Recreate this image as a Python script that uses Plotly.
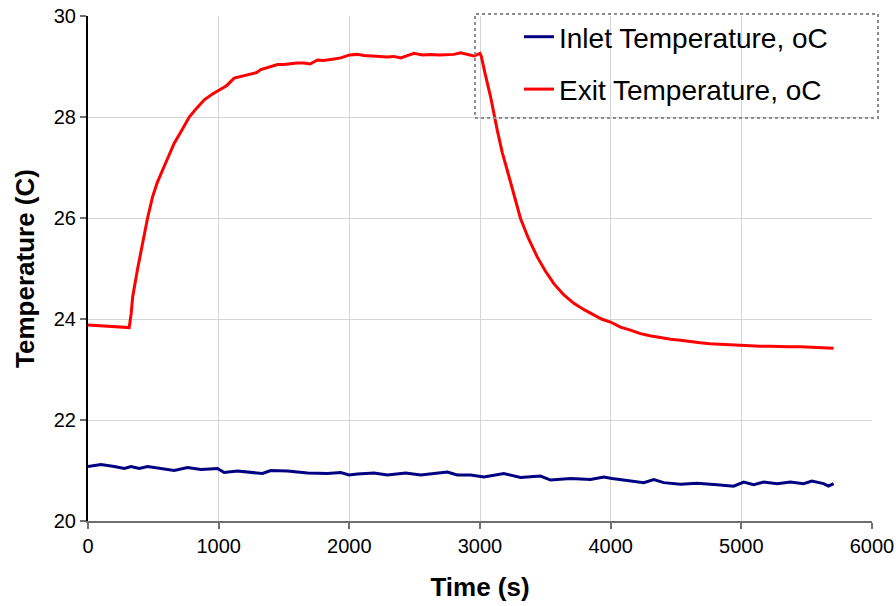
import plotly.graph_objects as go

# ---- data ----
exit_t = [0, 50, 100, 150, 200, 250, 300, 315, 330, 342, 380, 420, 456, 494, 530, 571, 610, 660, 720, 775,
          830, 890, 950, 1004, 1060, 1119, 1180, 1246, 1290, 1323, 1399, 1450, 1500, 1552, 1600, 1654, 1700,
          1756, 1800, 1858, 1900, 1934, 2003, 2062, 2110, 2164, 2230, 2291, 2340, 2393, 2450, 2495, 2560,
          2622, 2690, 2750, 2800, 2852, 2900, 2954, 3000, 3010, 3040, 3081, 3132, 3170, 3208, 3260, 3310,
          3370, 3438, 3500, 3565, 3640, 3718, 3800, 3871, 3930, 3998, 4075, 4151, 4228, 4300, 4381, 4460,
          4534, 4610, 4686, 4760, 4839, 4920, 4998, 5070, 5145, 5220, 5298, 5370, 5451, 5530, 5604, 5660, 5706]
exit_temp = [23.88, 23.87, 23.87, 23.86, 23.85, 23.84, 23.83, 23.83, 24.10, 24.44, 25.00, 25.55, 26.00, 26.42,
             26.70, 26.95, 27.18, 27.48, 27.75, 28.00, 28.17, 28.34, 28.45, 28.53, 28.62, 28.77, 28.81, 28.86,
             28.88, 28.94, 29.00, 29.04, 29.04, 29.06, 29.07, 29.07, 29.05, 29.13, 29.12, 29.14, 29.16, 29.17,
             29.23, 29.24, 29.22, 29.21, 29.21, 29.19, 29.20, 29.17, 29.22, 29.26, 29.23, 29.24, 29.23, 29.24,
             29.24, 29.27, 29.24, 29.21, 29.26, 29.20, 28.85, 28.40, 27.74, 27.30, 26.95, 26.45, 25.99, 25.60,
             25.23, 24.95, 24.70, 24.48, 24.31, 24.18, 24.08, 24.00, 23.94, 23.84, 23.78, 23.71, 23.67, 23.63,
             23.60, 23.58, 23.55, 23.53, 23.51, 23.50, 23.48, 23.47, 23.47, 23.46, 23.46, 23.45, 23.45, 23.45,
             23.44, 23.44, 23.43, 23.42]

inlet_t = [0, 99, 201, 278, 329, 392, 456, 558, 660, 762, 864, 991, 1042, 1144, 1246, 1335, 1399, 1527, 1680,
           1833, 1934, 1998, 2062, 2189, 2291, 2431, 2546, 2648, 2750, 2826, 2928, 3030, 3183, 3310, 3463, 3540,
           3693, 3846, 3947, 4011, 4151, 4253, 4330, 4406, 4534, 4661, 4814, 4941, 5018, 5094, 5171, 5273, 5375,
           5476, 5540, 5629, 5667, 5706]
inlet_temp = [21.08, 21.12, 21.08, 21.04, 21.08, 21.04, 21.08, 21.04, 21.00, 21.06, 21.02, 21.04, 20.96, 20.99,
              20.97, 20.94, 21.00, 20.99, 20.95, 20.94, 20.96, 20.91, 20.93, 20.95, 20.91, 20.95, 20.91, 20.94,
              20.97, 20.91, 20.91, 20.87, 20.94, 20.86, 20.89, 20.81, 20.84, 20.82, 20.87, 20.84, 20.79, 20.76,
              20.82, 20.76, 20.73, 20.75, 20.72, 20.69, 20.77, 20.72, 20.77, 20.74, 20.77, 20.74, 20.79, 20.74,
              20.69, 20.74]

x_ticks = [0, 1000, 2000, 3000, 4000, 5000, 6000]
y_ticks = [20, 22, 24, 26, 28, 30]

FONT = "Liberation Sans, Arial, sans-serif"

fig = go.Figure()
fig.add_trace(go.Scatter(x=inlet_t, y=inlet_temp, mode="lines", name="Inlet Temperature, oC",
                         legendgroup="a", line=dict(color="#000080", width=3)))
fig.add_trace(go.Scatter(x=exit_t, y=exit_temp, mode="lines", name="Exit Temperature, oC",
                         legendgroup="b", line=dict(color="#FF0000", width=3)))

L, R, T, B = 88, 24, 16, 85
W, H = 896, 606
pw, ph = W - L - R, H - T - B

def px(xp):
    return (xp - L) / pw

def py(yp):
    return (H - B - yp) / ph

# legend box: white fill hiding gridlines (under data) + dotted border
fig.add_shape(type="rect", xref="paper", yref="paper", x0=px(475), x1=px(878), y0=py(118), y1=py(14),
              fillcolor="white", line=dict(width=0), layer="between")
fig.add_shape(type="rect", xref="paper", yref="paper", x0=px(475), x1=px(878), y0=py(118), y1=py(14),
              fillcolor="rgba(0,0,0,0)", line=dict(color="#8c8c8c", width=2, dash="dot"), layer="above")

fig.update_layout(
    width=W, height=H,
    margin=dict(l=L, r=R, t=T, b=B, autoexpand=False),
    paper_bgcolor="white", plot_bgcolor="white",
    font=dict(family=FONT, color="black", size=20),
    showlegend=True,
    legend=dict(x=px(519), y=py(12), xanchor="left", yanchor="top",
                bgcolor="rgba(0,0,0,0)", borderwidth=0,
                font=dict(size=28, family=FONT, color="black"),
                traceorder="grouped", tracegroupgap=13, itemwidth=30),
    xaxis=dict(range=[0, 6000], tickvals=x_ticks, ticktext=[str(v) for v in x_ticks],
               showgrid=True, gridcolor="#d4d4d4", gridwidth=1, automargin=False,
               showline=True, linecolor="#6e6e6e", linewidth=2,
               ticks="outside", ticklen=6, tickcolor="#6e6e6e", tickwidth=2,
               tickfont=dict(size=20), zeroline=False,
               title=dict(text="<b>Time (s)</b>", font=dict(size=26), standoff=22)),
    yaxis=dict(range=[20, 30], tickvals=y_ticks, ticktext=[str(v) for v in y_ticks],
               showgrid=True, gridcolor="#d4d4d4", gridwidth=1, automargin=False,
               showline=True, linecolor="black", linewidth=2,
               ticks="outside", ticklen=6, tickcolor="#6e6e6e", tickwidth=2,
               tickfont=dict(size=20), zeroline=False,
               title=dict(text="<b>Temperature (C)</b>", font=dict(size=26), standoff=12)),
)

fig.write_html("out.html")
